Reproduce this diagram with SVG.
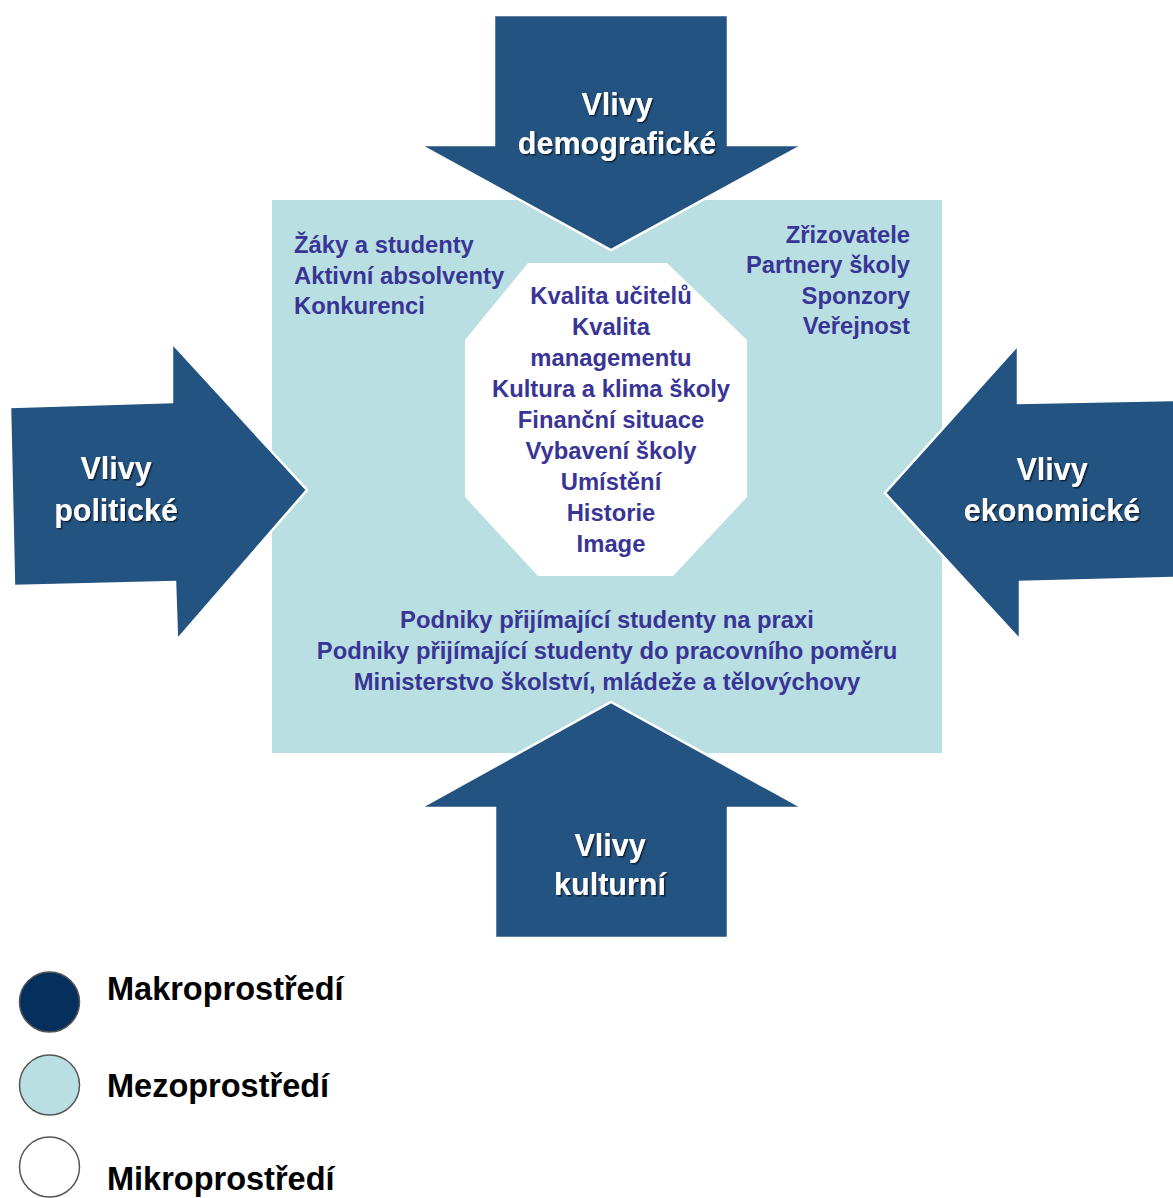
<svg xmlns="http://www.w3.org/2000/svg" width="1173" height="1198" viewBox="0 0 1173 1198">
  <defs>
    <style>
      .arrow { fill: #235380; stroke: #ffffff; stroke-width: 2.5; stroke-linejoin: miter; }
      .label { font-family: "Liberation Sans", Arial, sans-serif; font-weight: bold; font-size: 30.5px; fill: #ffffff; text-anchor: middle; filter: url(#shadow); }
      .item { font-family: "Liberation Sans", Arial, sans-serif; font-weight: bold; font-size: 23.8px; fill: #393596; }
      .mid { text-anchor: middle; }
      .end { text-anchor: end; }
      .legend { font-family: "Liberation Sans", Arial, sans-serif; font-weight: bold; font-size: 32.5px; fill: #000000; }
      .dot { stroke: #555555; stroke-width: 1.5; }
    </style>
    <filter id="shadow" x="-10%" y="-20%" width="130%" height="150%">
      <feDropShadow dx="1.5" dy="1.5" stdDeviation="0.6" flood-color="#0d1c30" flood-opacity="0.9"/>
    </filter>
  </defs>

  <rect width="1173" height="1198" fill="#ffffff"/>

  <!-- mezo environment: light panel -->
  <g id="mezo">
    <rect x="272" y="200" width="670" height="553" fill="#b9dfe2"/>
  </g>

  <!-- micro environment: white octagon with internal factors -->
  <g id="mikro">
    <polygon points="528,263 667,263 747,340 747,497 673,576 538,576 465,497 465,340" fill="#ffffff"/>
    <text class="item mid" x="611" y="304">Kvalita učitelů</text>
    <text class="item mid" x="611" y="335">Kvalita</text>
    <text class="item mid" x="611" y="366">managementu</text>
    <text class="item mid" x="611" y="397">Kultura a klima školy</text>
    <text class="item mid" x="611" y="428">Finanční situace</text>
    <text class="item mid" x="611" y="459">Vybavení školy</text>
    <text class="item mid" x="611" y="490">Umístění</text>
    <text class="item mid" x="611" y="521">Historie</text>
    <text class="item mid" x="611" y="552">Image</text>
  </g>

  <!-- mezo groups -->
  <g id="mezo-left">
    <text class="item" x="294" y="253">Žáky a studenty</text>
    <text class="item" x="294" y="284">Aktivní absolventy</text>
    <text class="item" x="294" y="314">Konkurenci</text>
  </g>
  <g id="mezo-right">
    <text class="item end" x="910" y="243">Zřizovatele</text>
    <text class="item end" x="910" y="273">Partnery školy</text>
    <text class="item end" x="910" y="304">Sponzory</text>
    <text class="item end" x="910" y="334">Veřejnost</text>
  </g>
  <g id="mezo-bottom">
    <text class="item mid" x="607" y="628">Podniky přijímající studenty na praxi</text>
    <text class="item mid" x="607" y="659">Podniky přijímající studenty do pracovního poměru</text>
    <text class="item mid" x="607" y="690">Ministerstvo školství, mládeže a tělovýchovy</text>
  </g>

  <!-- macro influences: block arrows -->
  <g id="connectors">
    <g id="vlivy-demograficke">
      <polygon class="arrow" points="494,15 728,15 728,145 803,145 611,250 420,145 494,145"/>
      <text class="label" x="617" y="115">Vlivy</text>
      <text class="label" x="617" y="154">demografické</text>
    </g>
    <g id="vlivy-politicke">
      <polygon class="arrow" points="10,407 172,402 172,343 307,490 177,640 175,582 14,586"/>
      <text class="label" x="116" y="479">Vlivy</text>
      <text class="label" x="116" y="521">politické</text>
    </g>
    <g id="vlivy-ekonomicke">
      <polygon class="arrow" points="885,493 1018,345 1018,403 1175,400 1175,578 1020,582 1020,640"/>
      <text class="label" x="1052" y="480">Vlivy</text>
      <text class="label" x="1052" y="521">ekonomické</text>
    </g>
    <g id="vlivy-kulturni">
      <polygon class="arrow" points="611,702 803,808 728,808 728,938 495,938 495,808 420,808"/>
      <text class="label" x="610" y="856">Vlivy</text>
      <text class="label" x="610" y="895">kulturní</text>
    </g>
  </g>

  <!-- legend -->
  <g id="legend-makro">
    <circle class="dot" cx="49.5" cy="1002" r="30" fill="#05305e"/>
    <text class="legend" x="107" y="1000">Makroprostředí</text>
  </g>
  <g id="legend-mezo">
    <circle class="dot" cx="49.5" cy="1085" r="30" fill="#b9dfe2"/>
    <text class="legend" x="107" y="1097">Mezoprostředí</text>
  </g>
  <g id="legend-mikro">
    <circle class="dot" cx="49.5" cy="1167" r="30" fill="#ffffff"/>
    <text class="legend" x="107" y="1190">Mikroprostředí</text>
  </g>
</svg>
